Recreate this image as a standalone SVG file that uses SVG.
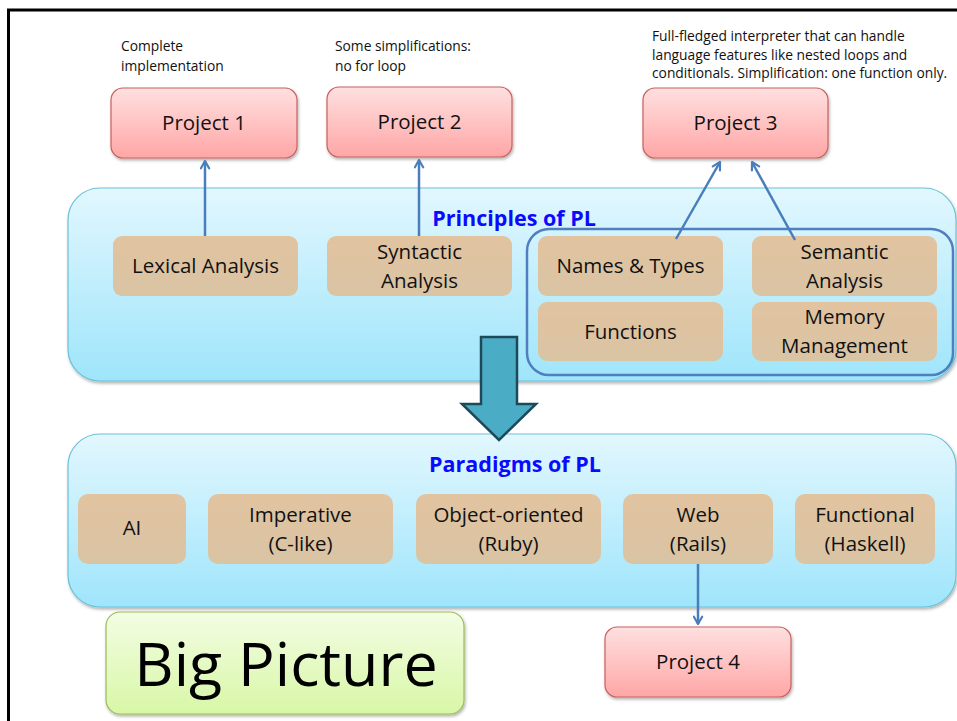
<svg xmlns="http://www.w3.org/2000/svg" width="957" height="721" viewBox="0 0 957 721">
  <defs>
    <linearGradient id="gProj" x1="0" y1="0" x2="0" y2="1">
      <stop offset="0" stop-color="#ffe0e0"/>
      <stop offset="1" stop-color="#ffa6a6"/>
    </linearGradient>
    <linearGradient id="gBand" x1="0" y1="0" x2="0" y2="1">
      <stop offset="0" stop-color="#e2f7fe"/>
      <stop offset="1" stop-color="#9fe5fb"/>
    </linearGradient>
    <linearGradient id="gTopic" x1="0" y1="0" x2="0" y2="1">
      <stop offset="0" stop-color="#e2c3a0"/>
      <stop offset="1" stop-color="#d9c4a4"/>
    </linearGradient>
    <linearGradient id="gBig" x1="0" y1="0" x2="0" y2="1">
      <stop offset="0" stop-color="#f3fde4"/>
      <stop offset="1" stop-color="#d8f7a6"/>
    </linearGradient>
    <filter id="shadow" x="-10%" y="-10%" width="120%" height="130%">
      <feDropShadow dx="1" dy="2" stdDeviation="1.5" flood-color="#000" flood-opacity="0.3"/>
    </filter>
    <marker id="arrow" viewBox="0 0 12 12" refX="10" refY="6" markerWidth="11" markerHeight="11" orient="auto-start-reverse" markerUnits="userSpaceOnUse">
      <path d="M2,1.5 L10,6 L2,10.5" fill="none" stroke="#4a7ebb" stroke-width="2.4" stroke-linecap="round" stroke-linejoin="round"/>
    </marker>
    <style>
      .proj { fill: url(#gProj); stroke: #c9605e; stroke-width: 1.2; filter: url(#shadow); }
      .band { fill: url(#gBand); stroke: #6bc2d8; stroke-width: 1.2; filter: url(#shadow); }
      .topic { fill: url(#gTopic); stroke: none; }
      .lbl { font-family: "Open Sans", "Liberation Sans", sans-serif; font-size: 20.5px; fill: #111; text-anchor: middle; }
      .note { font-family: "Open Sans", "Liberation Sans", sans-serif; font-size: 13.8px; fill: #111; }
      .title { font-family: "Open Sans", "Liberation Sans", sans-serif; font-size: 21.5px; font-weight: bold; fill: #0a0aff; text-anchor: middle; }
      .conn { stroke: #4a7ebb; stroke-width: 2.5; fill: none; }
    </style>
  </defs>

  <rect width="957" height="721" fill="#ffffff"/>
  <!-- page frame -->
  <path d="M8.5,721 V10 H957" fill="none" stroke="#000" stroke-width="3"/>

  <!-- annotations -->
  <text class="note" x="121" y="51">Complete</text>
  <text class="note" x="121" y="71">implementation</text>
  <text class="note" x="335" y="51">Some simplifications:</text>
  <text class="note" x="335" y="71">no for loop</text>
  <text class="note" x="652" y="41">Full-fledged interpreter that can handle</text>
  <text class="note" x="652" y="60">language features like nested loops and</text>
  <text class="note" x="652" y="78">conditionals. Simplification: one function only.</text>

  <!-- principles band -->
  <g id="principles">
    <rect class="band" x="68" y="188" width="888" height="193" rx="32"/>
    <text class="title" x="514" y="226">Principles of PL</text>
    <rect x="527" y="229" width="426" height="146" rx="22" fill="none" stroke="#4f7fbf" stroke-width="2.5"/>
  </g>

  <g id="lexical">
    <rect class="topic" x="113" y="236" width="185" height="60" rx="9"/>
    <text class="lbl" x="205.5" y="273">Lexical Analysis</text>
  </g>
  <g id="syntactic">
    <rect class="topic" x="327" y="236" width="185" height="60" rx="9"/>
    <text class="lbl" x="419.5" y="259">Syntactic</text>
    <text class="lbl" x="419.5" y="288">Analysis</text>
  </g>
  <g id="names">
    <rect class="topic" x="538" y="236" width="185" height="60" rx="9"/>
    <text class="lbl" x="630.5" y="273">Names &amp; Types</text>
  </g>
  <g id="semantic">
    <rect class="topic" x="752" y="236" width="185" height="60" rx="9"/>
    <text class="lbl" x="844.5" y="259">Semantic</text>
    <text class="lbl" x="844.5" y="288">Analysis</text>
  </g>
  <g id="functions">
    <rect class="topic" x="538" y="302" width="185" height="59" rx="9"/>
    <text class="lbl" x="630.5" y="339">Functions</text>
  </g>
  <g id="memory">
    <rect class="topic" x="752" y="302" width="185" height="59" rx="9"/>
    <text class="lbl" x="844.5" y="324">Memory</text>
    <text class="lbl" x="844.5" y="353">Management</text>
  </g>

  <!-- paradigms band -->
  <g id="paradigms">
    <rect class="band" x="68" y="434" width="888" height="173" rx="32"/>
    <text class="title" x="515" y="472">Paradigms of PL</text>
  </g>
  <g id="ai">
    <rect class="topic" x="78" y="494" width="108" height="70" rx="10"/>
    <text class="lbl" x="132" y="535">AI</text>
  </g>
  <g id="imperative">
    <rect class="topic" x="208" y="494" width="185" height="70" rx="10"/>
    <text class="lbl" x="300.5" y="522">Imperative</text>
    <text class="lbl" x="300.5" y="551">(C-like)</text>
  </g>
  <g id="oo">
    <rect class="topic" x="416" y="494" width="185" height="70" rx="10"/>
    <text class="lbl" x="508.5" y="522">Object-oriented</text>
    <text class="lbl" x="508.5" y="551">(Ruby)</text>
  </g>
  <g id="web">
    <rect class="topic" x="623" y="494" width="150" height="70" rx="10"/>
    <text class="lbl" x="698" y="522">Web</text>
    <text class="lbl" x="698" y="551">(Rails)</text>
  </g>
  <g id="functional">
    <rect class="topic" x="795" y="494" width="140" height="70" rx="10"/>
    <text class="lbl" x="865" y="522">Functional</text>
    <text class="lbl" x="865" y="551">(Haskell)</text>
  </g>

  <!-- projects -->
  <g id="project1">
    <rect class="proj" x="111" y="88" width="186" height="70" rx="12"/>
    <text class="lbl" x="204" y="130">Project 1</text>
  </g>
  <g id="project2">
    <rect class="proj" x="327" y="87" width="185" height="70" rx="12"/>
    <text class="lbl" x="419.5" y="129">Project 2</text>
  </g>
  <g id="project3">
    <rect class="proj" x="643" y="88" width="185" height="70" rx="12"/>
    <text class="lbl" x="735.5" y="130">Project 3</text>
  </g>
  <g id="project4">
    <rect class="proj" x="605" y="627" width="186" height="70" rx="12"/>
    <text class="lbl" x="698" y="669">Project 4</text>
  </g>

  <!-- title card -->
  <g id="bigpicture">
    <rect x="106" y="612" width="358" height="102" rx="14" fill="url(#gBig)" stroke="#9bbb59" stroke-width="1.2" filter="url(#shadow)"/>
    <text x="286" y="686" font-family="'Open Sans', 'Liberation Sans', sans-serif" font-size="61" fill="#000" text-anchor="middle">Big Picture</text>
  </g>

  <!-- connectors -->
  <g id="connectors">
    <line class="conn" x1="205" y1="236" x2="205" y2="161" marker-end="url(#arrow)"/>
    <line class="conn" x1="419" y1="236" x2="419" y2="160" marker-end="url(#arrow)"/>
    <line class="conn" x1="676" y1="239" x2="720" y2="162" marker-end="url(#arrow)"/>
    <line class="conn" x1="795" y1="240" x2="752" y2="162" marker-end="url(#arrow)"/>
    <line class="conn" x1="698" y1="564" x2="698" y2="624" marker-end="url(#arrow)"/>
    <!-- block arrow between bands -->
    <path d="M481,337 H517 V404 H536 L499,440 L462,404 H481 Z" fill="#4bacc6" stroke="#1c4a58" stroke-width="2.5" stroke-linejoin="miter"/>
  </g>
</svg>
